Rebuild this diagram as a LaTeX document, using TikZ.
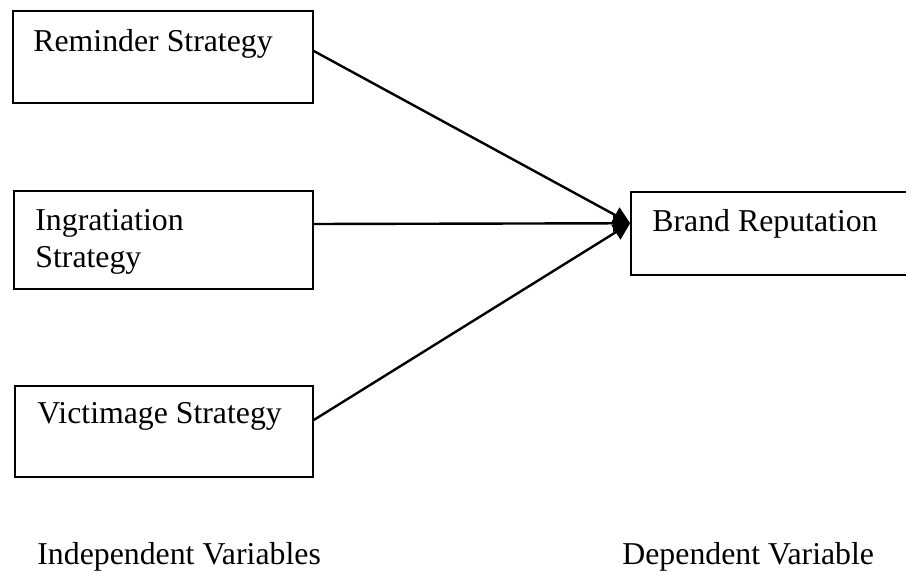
\documentclass[tikz,border=0pt]{standalone}
\usepackage{fontspec}
\setmainfont{Liberation Serif}
\usetikzlibrary{arrows.meta}
\begin{document}
\begin{tikzpicture}[x=0.5pt,y=-0.5pt,
  box/.style={draw,line width=0.8pt,minimum width=#1,inner sep=0pt},
  lbl/.style={anchor=base west,inner sep=0pt,font=\fontsize{15.9}{19}\selectfont},
  arr/.style={line width=1.2pt,-{Triangle[length=8.5pt,width=8.5pt]}}]
\useasboundingbox (0,0) rectangle (906,577);
\node[box=150pt,minimum height=46pt] (rem) at (163,57) {};
\node[box=149.5pt,minimum height=49pt] (ing) at (163.5,240) {};
\node[box=149pt,minimum height=45.5pt] (vic) at (164,431.5) {};
\node[box=150pt,minimum height=41.5pt] (brand) at (781,233.75) {};
\node[lbl] (remt) at (33,52) {Reminder Strategy};
\node[lbl] (ingt1) at (35,231) {Ingratiation};
\node[lbl] (ingt2) at (35,268) {Strategy};
\node[lbl] (vict) at (37,423) {Victimage Strategy};
\node[lbl] (brandt) at (652,232) {Brand Reputation};
\node[lbl] (indep) at (37,564) {Independent Variables};
\node[lbl] (dep) at (622,565) {Dependent Variable};
\coordinate (tip) at ([yshift=5.25pt]brand.west);
\draw[arr] ([yshift=3pt]rem.east) -- (tip);
\draw[arr] ([yshift=8pt]ing.east) -- (tip);
\draw[arr] ([yshift=5.75pt]vic.east) -- (tip);
\end{tikzpicture}
\end{document}
